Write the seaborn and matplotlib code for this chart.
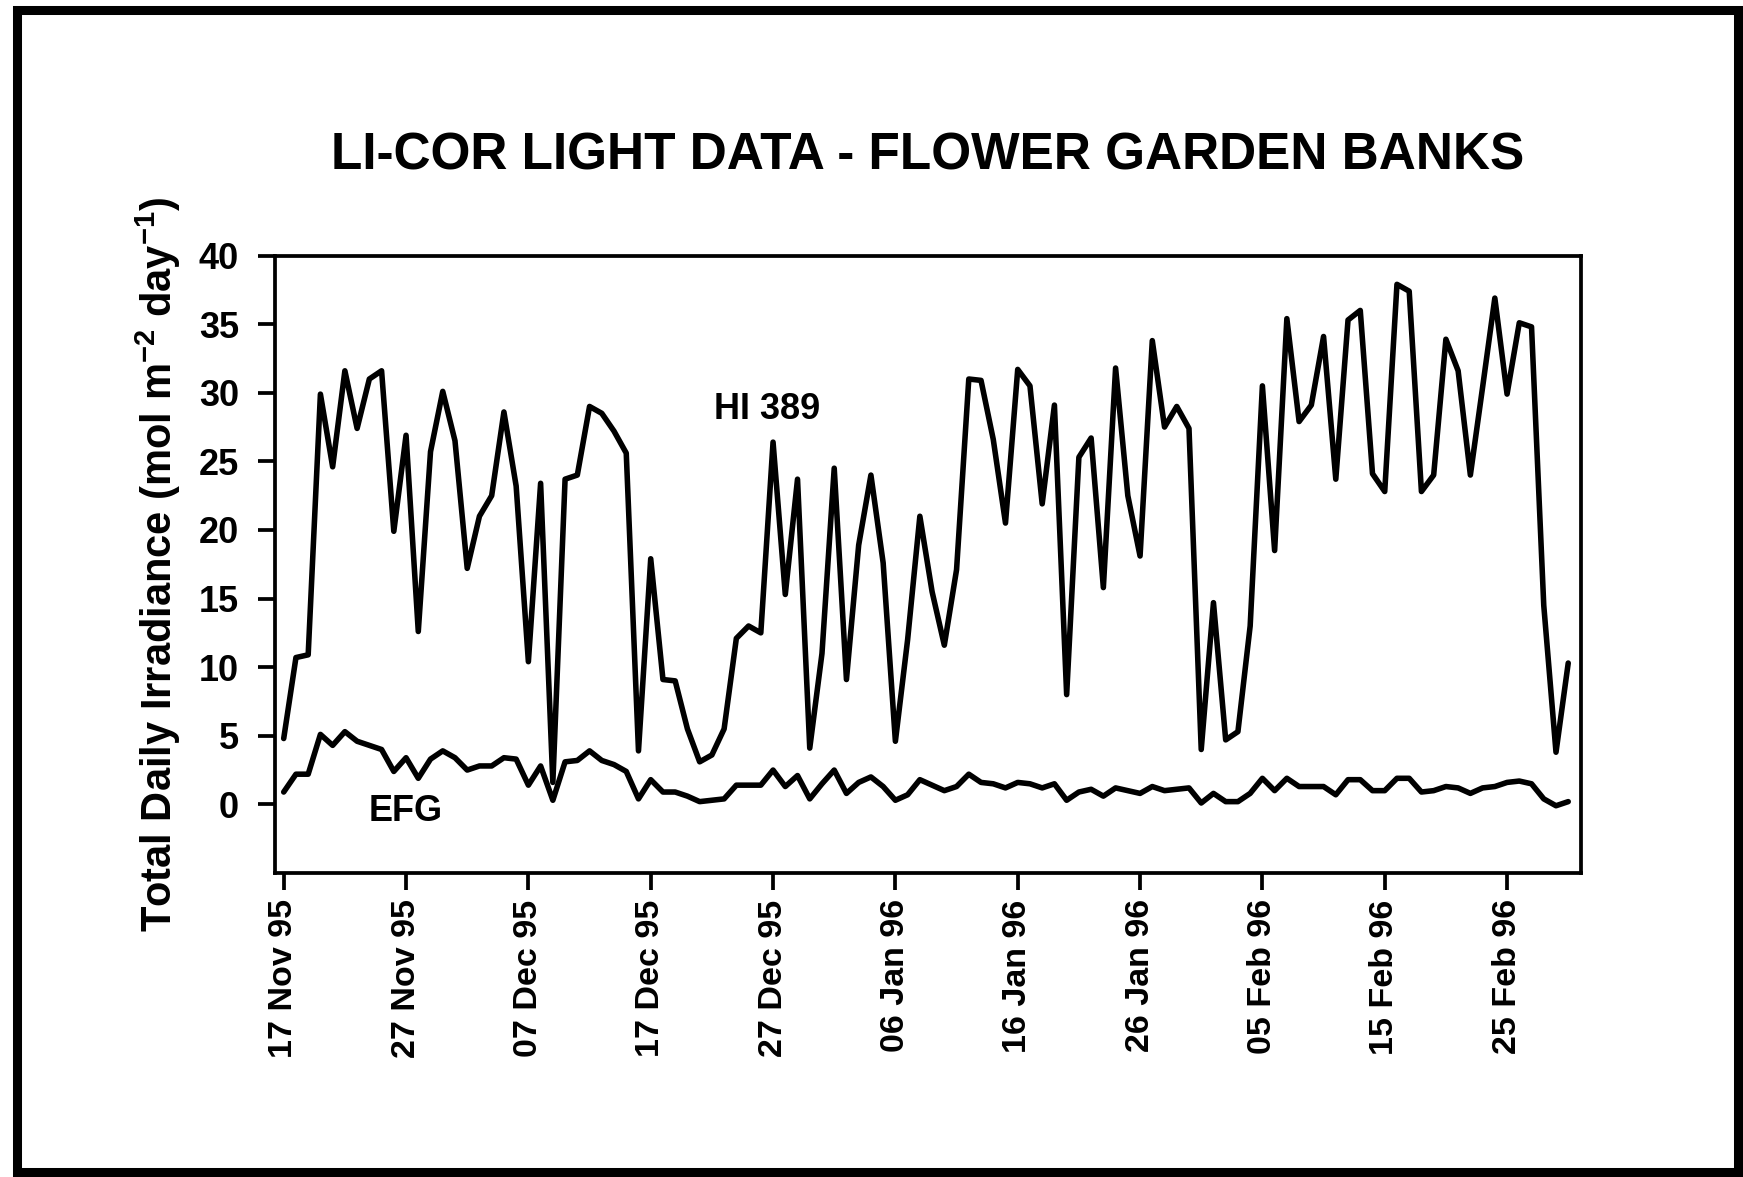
import numpy as np
import pandas as pd
import matplotlib
matplotlib.use('Agg')
import matplotlib.pyplot as plt
import seaborn as sns
from matplotlib.patches import Rectangle

# daily totals, starting 17 Nov 1995
start_date = '1995-11-17'
hi389 = [4.8, 10.7, 10.9, 29.9, 24.6, 31.6, 27.4, 31.0, 31.6, 19.9,
         26.9, 12.6, 25.7, 30.1, 26.5, 17.2, 21.0, 22.5, 28.6, 23.2,
         10.4, 23.4, 1.6, 23.7, 24.0, 29.0, 28.5, 27.2, 25.6, 3.9,
         17.9, 9.1, 9.0, 5.5, 3.1, 3.6, 5.5, 12.1, 13.0, 12.5,
         26.4, 15.3, 23.7, 4.1, 11.0, 24.5, 9.1, 18.9, 24.0, 17.6,
         4.6, 12.0, 21.0, 15.5, 11.6, 17.1, 31.0, 30.9, 26.6, 20.5,
         31.7, 30.5, 21.9, 29.1, 8.0, 25.3, 26.7, 15.8, 31.8, 22.5,
         18.1, 33.8, 27.5, 29.0, 27.4, 4.0, 14.7, 4.7, 5.3, 13.0,
         30.5, 18.5, 35.4, 27.9, 29.1, 34.1, 23.7, 35.3, 36.0, 24.1,
         22.8, 37.9, 37.4, 22.8, 24.0, 33.9, 31.6, 24.0, 30.4, 36.9,
         29.9, 35.1, 34.8, 14.5, 3.8, 10.3]
efg = [0.9, 2.2, 2.2, 5.1, 4.3, 5.3, 4.6, 4.3, 4.0, 2.4,
       3.4, 1.9, 3.3, 3.9, 3.4, 2.5, 2.8, 2.8, 3.4, 3.3,
       1.4, 2.8, 0.3, 3.1, 3.2, 3.9, 3.2, 2.9, 2.4, 0.4,
       1.8, 0.9, 0.9, 0.6, 0.2, 0.3, 0.4, 1.4, 1.4, 1.4,
       2.5, 1.3, 2.1, 0.4, 1.5, 2.5, 0.8, 1.6, 2.0, 1.3,
       0.3, 0.7, 1.8, 1.4, 1.0, 1.3, 2.2, 1.6, 1.5, 1.2,
       1.6, 1.5, 1.2, 1.5, 0.3, 0.9, 1.1, 0.6, 1.2, 1.0,
       0.8, 1.3, 1.0, 1.1, 1.2, 0.1, 0.8, 0.2, 0.2, 0.8,
       1.9, 1.0, 1.9, 1.3, 1.3, 1.3, 0.7, 1.8, 1.8, 1.0,
       1.0, 1.9, 1.9, 0.9, 1.0, 1.3, 1.2, 0.8, 1.2, 1.3,
       1.6, 1.7, 1.5, 0.4, -0.1, 0.2]

tick_labels = ['17 Nov 95', '27 Nov 95', '07 Dec 95', '17 Dec 95', '27 Dec 95',
               '06 Jan 96', '16 Jan 96', '26 Jan 96', '05 Feb 96', '15 Feb 96',
               '25 Feb 96']
y_ticks = [0, 5, 10, 15, 20, 25, 30, 35, 40]

dates = pd.date_range(start_date, periods=len(hi389), freq='D')
df = pd.DataFrame({'date': dates, 'HI 389': hi389, 'EFG': efg})

sns.set_style('ticks')
plt.rcParams['font.family'] = ['Liberation Sans', 'DejaVu Sans']
plt.rcParams['font.weight'] = 'bold'
plt.rcParams['text.color'] = 'black'
plt.rcParams['axes.labelcolor'] = 'black'
plt.rcParams['xtick.color'] = 'black'
plt.rcParams['ytick.color'] = 'black'
plt.rcParams['mathtext.fontset'] = 'custom'
plt.rcParams['mathtext.rm'] = 'Liberation Sans:bold'
plt.rcParams['mathtext.bf'] = 'Liberation Sans:bold'
plt.rcParams['mathtext.default'] = 'bf'

fig = plt.figure(figsize=(17.43, 11.77), dpi=100)
ax = fig.add_axes([0.1578, 0.2583, 0.7493, 0.5246])

sns.lineplot(data=df, x='date', y='HI 389', color='black', lw=4.0, ax=ax)
sns.lineplot(data=df, x='date', y='EFG', color='black', lw=4.0, ax=ax)

ax.set_xlim(dates[0] - pd.Timedelta(hours=17), dates[0] + pd.Timedelta(days=106.05))
ax.set_ylim(-5, 40)

tick_dates = pd.to_datetime(tick_labels, format='%d %b %y')
ax.set_xticks(tick_dates)
ax.set_xticklabels(tick_labels, rotation=90, fontsize=24.5, fontweight='bold')
ax.set_yticks(y_ticks)
ax.set_yticklabels([str(v) for v in y_ticks], fontsize=26, fontweight='bold')
ax.tick_params(axis='both', length=12, width=2.7, color='black')
ax.tick_params(axis='y', pad=14)
ax.tick_params(axis='x', pad=7)

for sp in ax.spines.values():
    sp.set_linewidth(2.7)
    sp.set_color('black')

ax.set_xlabel('')
ax.set_ylabel('Total Daily Irradiance (mol m$^{-2}$ day$^{-1}$)',
              fontsize=30, fontweight='bold', color='black')
ax.yaxis.set_label_coords(-0.0704, 0.5)

ax.text(dates[0] + pd.Timedelta(days=39.5), 28.8, 'HI 389', ha='center', va='center',
        fontsize=26, fontweight='bold', color='black')
ax.text(dates[0] + pd.Timedelta(days=10.0), -0.55, 'EFG', ha='center', va='center',
        fontsize=26, fontweight='bold', color='black')

fig.text(0.532, 0.856, 'LI-COR LIGHT DATA - FLOWER GARDEN BANKS',
         ha='center', va='baseline', fontsize=37, fontweight='bold', color='black')

# heavy frame round the whole figure
fig.add_artist(Rectangle((0.00975, 0.00425), 0.98738, 0.98725, transform=fig.transFigure,
                         fill=False, lw=6.5, edgecolor='black'))

fig.savefig('out.png', dpi=100)
